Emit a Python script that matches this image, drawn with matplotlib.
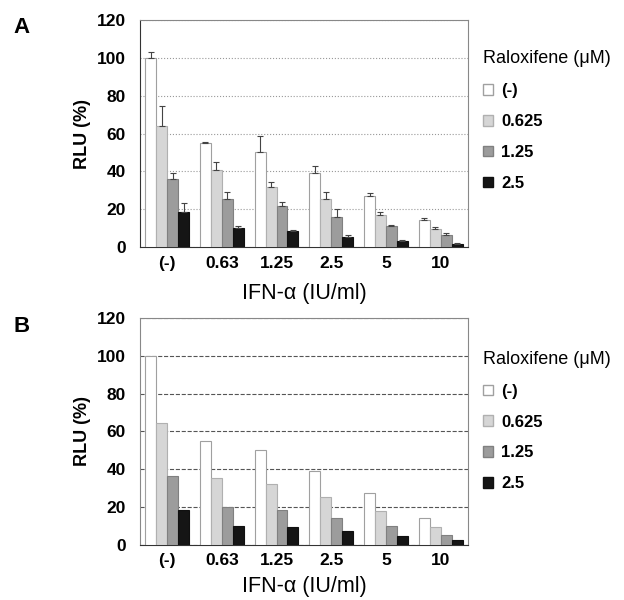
# coding=utf-8
import numpy as np
import matplotlib
matplotlib.use('Agg')
import matplotlib.pyplot as plt
from matplotlib.patches import Patch

plt.rcParams['font.family'] = ['Liberation Sans', 'DejaVu Sans']

ifn_doses = ['(-)', '0.63', '1.25', '2.5', '5', '10']
ralox_doses = ['(-)', '0.625', '1.25', '2.5']

# panel A: means and error
a_ctrl = [100, 55, 50, 39, 27, 14.4]
a_r0625 = [64, 41, 32, 25.6, 17, 9.5]
a_r125 = [36, 25.3, 22, 16, 11.2, 6.3]
a_r25 = [18.6, 10.3, 8.4, 5.3, 3.5, 1.9]
a_err_ctrl = [3, 0.5, 8.8, 3.7, 1.8, 0.9]
a_err_r0625 = [10.5, 3.8, 2.3, 3.4, 1.6, 0.9]
a_err_r125 = [3, 3.7, 1.9, 4, 0.3, 1.1]
a_err_r25 = [4.5, 1.1, 0.7, 1.2, 0.3, 0.4]

# panel B
b_ctrl = [100, 54.9, 50.4, 39.3, 27.3, 14.3]
b_r0625 = [64.6, 35.4, 32.4, 25.3, 17.7, 9.2]
b_r125 = [36.6, 20, 18.4, 14.2, 9.9, 5.3]
b_r25 = [18.6, 10.1, 9.4, 7.3, 4.8, 2.7]

colors = ['#ffffff', '#d6d6d6', '#9c9c9c', '#151515']
edges = ['#a0a0a0', '#b0b0b0', '#808080', '#101010']


def draw_panel(ax, series, errs, grid_style, grid_color, left_spine, leg_y, xpad):
    x = np.arange(len(ifn_doses))
    w = 0.2
    for i, vals in enumerate(series):
        pos = x + (i - 1.5) * w
        ax.bar(pos, vals, w, color=colors[i], edgecolor=edges[i], linewidth=0.8, zorder=3)
        if errs is not None:
            ax.errorbar(pos, vals, yerr=[np.zeros(len(vals)), errs[i]], fmt='none',
                        ecolor='#444444', elinewidth=0.8, capsize=2, capthick=0.8, zorder=4)
    ax.set_xlim(-0.5, len(ifn_doses) - 0.5)
    ax.set_ylim(0, 120)
    ax.set_yticks(np.arange(0, 121, 20))
    ax.set_xticks(x)
    ax.set_xticklabels(ifn_doses)
    ax.yaxis.grid(True, linestyle=grid_style, color=grid_color, linewidth=0.8, zorder=0)
    ax.tick_params(length=0, labelsize=12.5)
    ax.tick_params(axis='y', pad=10)
    ax.tick_params(axis='x', pad=6)
    for lab in ax.get_xticklabels() + ax.get_yticklabels():
        lab.set_fontweight('bold')
    for s in ['top', 'right']:
        ax.spines[s].set_color('#888888')
    ax.spines['left'].set_color(left_spine)
    ax.spines['bottom'].set_color('#333333')
    ax.set_ylabel('RLU (%)', fontsize=13, fontweight='bold', labelpad=4)
    ax.set_xlabel('IFN-α (IU/ml)', fontsize=15.5, labelpad=xpad)
    handles = [Patch(facecolor=colors[i], edgecolor=edges[i], label=ralox_doses[i]) for i in range(4)]
    leg = ax.legend(handles=handles, title='Raloxifene (μM)', loc='upper left',
                    bbox_to_anchor=(1.046, leg_y), frameon=False, fontsize=12,
                    title_fontproperties={'size': 13},
                    handlelength=0.6, handleheight=0.6, handletextpad=0.5,
                    labelspacing=0.95, borderaxespad=0, borderpad=0)
    leg._legend_box.align = 'left'
    for t in leg.get_texts():
        t.set_fontweight('bold')


fig = plt.figure(figsize=(6.24, 6.0), dpi=100)
ax1 = fig.add_axes([0.224, 0.588, 0.526, 0.379])
ax2 = fig.add_axes([0.224, 0.092, 0.526, 0.378])

draw_panel(ax1, [a_ctrl, a_r0625, a_r125, a_r25],
           [a_err_ctrl, a_err_r0625, a_err_r125, a_err_r25], ':', '#999999', '#333333', 0.865, 9)
draw_panel(ax2, [b_ctrl, b_r0625, b_r125, b_r25], None, '--', '#555555', '#888888', 0.855, 6)

fig.text(0.021, 0.945, 'A', fontsize=16, fontweight='bold')
fig.text(0.021, 0.447, 'B', fontsize=16, fontweight='bold')

plt.savefig('out.png', dpi=100, facecolor='white')
plt.close()
